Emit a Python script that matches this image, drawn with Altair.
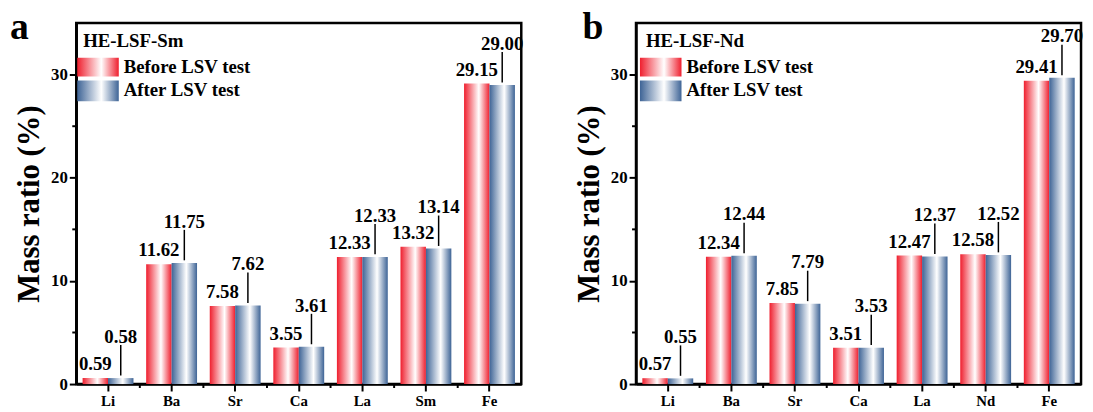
import altair as alt
import pandas as pd

# ---- data ----
cats_a = ["Li", "Ba", "Sr", "Ca", "La", "Sm", "Fe"]
before_a = [0.59, 11.62, 7.58, 3.55, 12.33, 13.32, 29.15]
after_a = [0.58, 11.75, 7.62, 3.61, 12.33, 13.14, 29.00]

cats_b = ["Li", "Ba", "Sr", "Ca", "La", "Nd", "Fe"]
before_b = [0.57, 12.34, 7.85, 3.51, 12.47, 12.58, 29.41]
after_b = [0.55, 12.44, 7.79, 3.53, 12.37, 12.52, 29.70]

series = ["Before LSV test", "After LSV test"]
y_ticks = [0, 10, 20, 30]
y_minor = [5, 15, 25]

# ---- style ----
FONT = "Liberation Serif"
W, H = 450, 365
RED = "#ef1f2e"
BLUE = "#3e6496"
LIFT = 4.0  # label lift (data units) for "after" labels
YTITLE = "Mass ratio (%)"


def grad(c):
    return alt.Gradient(
        gradient="linear", x1=0, x2=1, y1=0, y2=0,
        stops=[alt.GradientStop(offset=0, color=c),
               alt.GradientStop(offset=0.58, color="white"),
               alt.GradientStop(offset=1, color=c)],
    )


def panel(cats, before, after, name, letter, letter_x, leg_x):
    n = len(cats)
    df = pd.DataFrame({
        "el": cats * 2,
        "series": [series[0]] * n + [series[1]] * n,
        "val": before + after,
    })
    step = W / n
    xaxis = alt.Axis(labelAngle=0, tickSize=7, labelFontSize=15,
                     labelPadding=3, domainWidth=2.5, tickWidth=2)
    x = alt.X("el:N", sort=cats, title=None,
              scale=alt.Scale(paddingInner=0.2, paddingOuter=0.1), axis=xaxis)
    xo = alt.XOffset("series:N", sort=series,
                     scale=alt.Scale(domain=series, paddingInner=0, paddingOuter=0))
    yscale = alt.Scale(domain=[0, 35], nice=False)
    yaxis = alt.Axis(values=y_ticks, tickSize=7, labelFontSize=17,
                     labelPadding=2, titleFontSize=31, titlePadding=5,
                     domainWidth=2.5, tickWidth=2)

    def yy(f):
        return alt.Y(f, scale=yscale, title=YTITLE, axis=yaxis)

    base = alt.Chart(df)
    bars_b = base.transform_filter(alt.datum.series == series[0]).mark_bar(
        color=grad(RED)).encode(x=x, xOffset=xo, y=yy("val:Q"))
    bars_a = base.transform_filter(alt.datum.series == series[1]).mark_bar(
        color=grad(BLUE)).encode(x=x, xOffset=xo, y=yy("val:Q"))

    txt_b = base.transform_filter(alt.datum.series == series[0]).mark_text(
        font=FONT, fontWeight="bold", fontSize=19, dy=-8, baseline="alphabetic",
        color="black").encode(x=x, xOffset=xo, y=yy("val:Q"),
                              text=alt.Text("val:Q", format=".2f"))
    after_df = base.transform_filter(alt.datum.series == series[1]).transform_calculate(
        ly=alt.datum.val + LIFT, r1=alt.datum.val + 0.25, r2=alt.datum.val + LIFT - 0.8)
    txt_a = after_df.mark_text(
        font=FONT, fontWeight="bold", fontSize=19, baseline="middle",
        color="black").encode(x=x, xOffset=xo, y=yy("ly:Q"),
                              text=alt.Text("val:Q", format=".2f"))
    lead = after_df.mark_rule(color="black", strokeWidth=1.5).encode(
        x=x, xOffset=xo, y=yy("r1:Q"), y2="r2:Q")

    xminor = alt.Chart(pd.DataFrame({"el": cats[:-1]})).mark_rule(
        color="black", strokeWidth=2, xOffset=step / 2).encode(
        x=x, y=alt.value(H), y2=alt.value(H + 4))
    yminor = alt.Chart(pd.DataFrame({"v": y_minor})).mark_rule(
        color="black", strokeWidth=2).encode(
        y=yy("v:Q"), x=alt.value(0), x2=alt.value(-4))

    sw1 = alt.Chart(pd.DataFrame({"s": [series[0]]})).mark_rect(color=grad(RED)).encode(
        x=alt.value(leg_x), x2=alt.value(leg_x + 42), y=alt.value(35), y2=alt.value(54))
    sw2 = alt.Chart(pd.DataFrame({"s": [series[1]]})).mark_rect(color=grad(BLUE)).encode(
        x=alt.value(leg_x), x2=alt.value(leg_x + 42), y=alt.value(58), y2=alt.value(79))
    lt1 = alt.Chart(pd.DataFrame({"s": [series[0]]})).mark_text(
        font=FONT, fontWeight="bold", fontSize=19, align="left", baseline="middle",
        color="black").encode(x=alt.value(leg_x + 47), y=alt.value(44), text="s:N")
    lt2 = alt.Chart(pd.DataFrame({"s": [series[1]]})).mark_text(
        font=FONT, fontWeight="bold", fontSize=19, align="left", baseline="middle",
        color="black").encode(x=alt.value(leg_x + 47), y=alt.value(68), text="s:N")
    title = alt.Chart(pd.DataFrame({"t": [name]})).mark_text(
        font=FONT, fontWeight="bold", fontSize=19, align="left", baseline="middle",
        color="black").encode(x=alt.value(leg_x + 6), y=alt.value(18), text="t:N")
    let = alt.Chart(pd.DataFrame({"t": [letter]})).mark_text(
        font=FONT, fontWeight="bold", fontSize=38, align="left", baseline="alphabetic",
        color="black").encode(x=alt.value(letter_x), y=alt.value(16), text="t:N")

    return alt.layer(bars_b, bars_a, txt_b, lead, txt_a, xminor, yminor,
                     sw1, sw2, lt1, lt2, title, let).properties(width=W, height=H)


pa = panel(cats_a, before_a, after_a, "HE-LSF-Sm", "a", -67, 1)
pb = panel(cats_b, before_b, after_b, "HE-LSF-Nd", "b", -54, 4)

chart = alt.hconcat(pa, pb, spacing=116, bounds="flush").properties(
    padding={"left": 0, "top": -3, "right": 0, "bottom": 0},
).configure_view(stroke="black", strokeWidth=2.5).configure_axis(
    labelFont=FONT, titleFont=FONT, labelFontWeight="bold", titleFontWeight="bold",
    labelColor="black", titleColor="black", domainColor="black", tickColor="black",
    grid=False,
)

chart.save("out.html", embed_options={"renderer": "svg", "actions": False})
